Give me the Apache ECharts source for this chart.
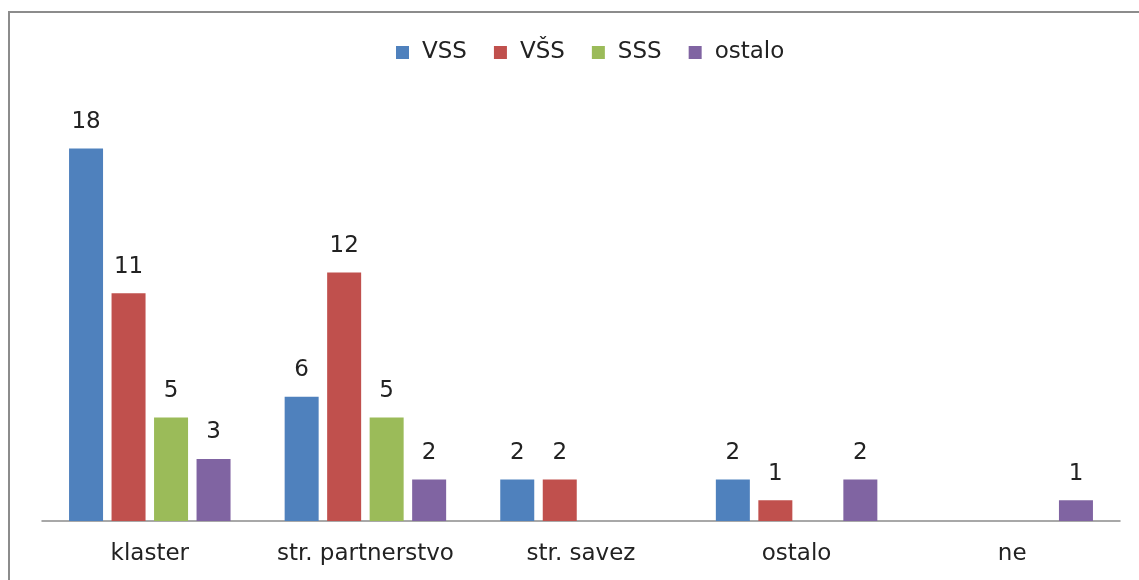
<!DOCTYPE html>
<html>
<head>
<meta charset="utf-8">
<script src="https://cdn.jsdelivr.net/npm/echarts@6/dist/echarts.min.js"></script>
<style>
  html, body { margin: 0; padding: 0; background: #fff; }
  #chart { width: 1139px; height: 580px; }
  #frame { position: absolute; left: 8px; top: 11px; width: 1200px; height: 600px;
           border-left: 2px solid #8c8c8c; border-top: 2px solid #8c8c8c; pointer-events: none; }
</style>
</head>
<body>
<div id="chart"></div>
<div id="frame"></div>
<script>
const categories = ['klaster', 'str. partnerstvo', 'str. savez', 'ostalo', 'ne'];
const vss = [18, 6, 2, 2, null];
const vsz = [11, 12, 2, 1, null];
const sss = [5, 5, null, null, null];
const ostalo = [3, 2, null, 2, 1];

const fontFamily = 'DejaVu Sans';

function barSeries(name, data, color) {
  return {
    name,
    type: 'bar',
    data,
    barWidth: 34,
    barGap: '25%',
    itemStyle: { color },
    label: { show: true, position: 'top', distance: 15, color: '#222', fontSize: 23, fontFamily },
  };
}

const chart = echarts.init(document.getElementById('chart'));
chart.setOption({
  animation: false,
  legend: {
    top: 36,
    left: 391,
    itemWidth: 13,
    itemHeight: 13,
    itemGap: 27,
    icon: 'rect',
    textStyle: { fontSize: 23, fontFamily, color: '#222', padding: [0, 0, 0, 8] },
  },
  grid: { left: 42, right: 19, top: 107, bottom: 59 },
  xAxis: {
    type: 'category',
    data: categories,
    axisLine: { lineStyle: { color: '#8c8c8c', width: 1.5 } },
    axisTick: { show: false },
    axisLabel: { interval: 0, fontSize: 23, fontFamily, color: '#222', margin: 22 },
  },
  yAxis: { type: 'value', min: 0, max: 20, show: false, splitLine: { show: false } },
  series: [
    barSeries('VSS', vss, '#4f81bd'),
    barSeries('VŠS', vsz, '#c0504d'),
    barSeries('SSS', sss, '#9bbb59'),
    barSeries('ostalo', ostalo, '#8064a2'),
  ],
});
</script>
</body>
</html>
